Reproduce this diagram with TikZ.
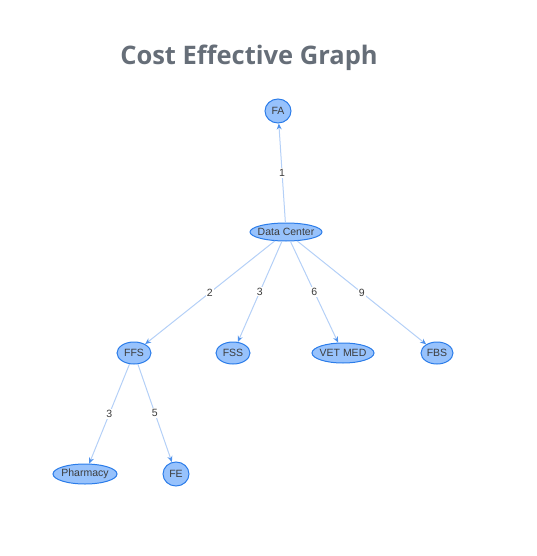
\documentclass[tikz,border=0pt]{standalone}
\usepackage{fontspec}
\setmainfont{Liberation Sans}
\newfontfamily\titlefont{Open Sans}
\usetikzlibrary{shapes.geometric,arrows.meta}
\definecolor{nodefill}{HTML}{97C2FC}
\definecolor{nodeborder}{HTML}{2B7CE9}
\definecolor{edgeline}{HTML}{B4D0F7}
\definecolor{edgetip}{HTML}{4F92EC}
\definecolor{titlegray}{HTML}{666E78}
\definecolor{labelgray}{HTML}{3C3C3C}
\begin{document}
\begin{tikzpicture}
[x=1pt,y=-1pt,
  nodedecorate/.style={shape=ellipse,inner xsep=-3pt,inner ysep=0pt,draw=nodeborder,fill=nodefill,
    line width=1pt,text=labelgray,font=\fontsize{10.5}{12}\selectfont},%
  linedecorate/.style={-{Stealth[length=6pt,width=5pt,color=edgetip]},draw=edgeline,line width=1pt},%
  weightdecorate/.style={fill=white,inner sep=1pt,text=labelgray,font=\fontsize{10.5}{12}\selectfont}]
\useasboundingbox (0,0) rectangle (536,556);
%% title
\node (title) at (249,58) [text=titlegray,font=\titlefont\bfseries\fontsize{25.5}{30}\selectfont] {Cost Effective Graph};
%% nodes or vertices
\foreach \nodename/\x/\y/\w/\h/\txt in {fa/278/111/26/24/FA, dc/286/232/72/18/Data Center,
  ffs/134/353/34/22/FFS, fss/233/353/34/22/FSS, vet/343/353/62/20/VET MED,
  fbs/437/353/32/22/FBS, ph/85/474/64/20/Pharmacy, fe/176/474/26/24/FE} {
  \node (\nodename) at (\x,\y) [nodedecorate,minimum width=\w pt,minimum height=\h pt] {\txt};
}
%% edges or lines
\path
\foreach \startnode/\endnode/\weight in {dc/fa/1, dc/ffs/2, dc/fss/3, dc/vet/6, dc/fbs/9, ffs/ph/3, ffs/fe/5} {
  (\startnode) edge[linedecorate] node[weightdecorate] {\weight} (\endnode)
};
\end{tikzpicture}
\end{document}
